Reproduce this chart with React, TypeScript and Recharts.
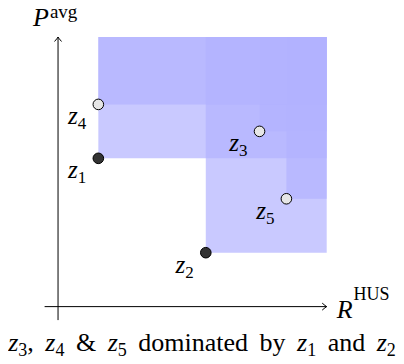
import { ReferenceArea, ReferenceLine, Scatter, ScatterChart, XAxis, YAxis } from "recharts";

const pointIds = ["1", "2", "3", "4", "5"];
const pointX = [1.5, 5.5, 7.5, 1.5, 8.5];
const pointY = [5.5, 2, 6.5, 7.5, 4];
const isDominating = [true, true, false, false, false];
const axisMin = -0.5;
const axisMax = 10;
const xAxisTitle = ["R", "HUS"];
const yAxisTitle = ["P", "avg"];
const caption = { dominated: ["3", "4", "5"], by: ["1", "2"] };

const points = pointIds.map((id, i) => ({ id, x: pointX[i], y: pointY[i], dom: isDominating[i] }));
const font = "Liberation Serif";

function Dot(props: any) {
  const { cx, cy, payload } = props;
  return (
    <g>
      <circle cx={cx} cy={cy} r={5.3} fill={payload.dom ? "#333333" : "#e6e6e6"} stroke="#000" strokeWidth={1} />
      <text x={cx - 12} y={cy + 20} textAnchor="end" style={{ fontFamily: font }} fontSize={25} fill="#000">
        <tspan fontStyle="italic">z</tspan>
        <tspan fontSize={17} dy={5}>{payload.id}</tspan>
      </text>
    </g>
  );
}

function Arrow({ x1, y1, x2, y2, title, vertical }: any) {
  const head = vertical
    ? `M${x2 - 3.5} ${y2 + 4.5} Q${x2 - 0.6} ${y2 + 1.2} ${x2} ${y2} Q${x2 + 0.6} ${y2 + 1.2} ${x2 + 3.5} ${y2 + 4.5}`
    : `M${x2 - 4.5} ${y2 - 3.5} Q${x2 - 1.2} ${y2 - 0.6} ${x2} ${y2} Q${x2 - 1.2} ${y2 + 0.6} ${x2 - 4.5} ${y2 + 3.5}`;
  return (
    <g>
      <line x1={x1} y1={y1} x2={x2} y2={y2} stroke="#000" strokeWidth={1} />
      <path d={head} fill="none" stroke="#000" strokeWidth={1} />
      <text
        x={vertical ? x2 - 25 : x2 + 10}
        y={vertical ? y2 - 11 : y2 + 11}
        style={{ fontFamily: font }}
        fontSize={26}
        fill="#000"
      >
        <tspan fontStyle="italic">{title[0]}</tspan>
        <tspan fontSize={vertical ? 19 : 18} dx={1} dy={vertical ? -8 : -18}>
          {title[1]}
        </tspan>
      </text>
    </g>
  );
}

const Z = ({ n }: { n: string }) => (
  <span>
    <i>z</i>
    <sub style={{ fontSize: 18, verticalAlign: "-5px", lineHeight: 0 }}>{n}</sub>
  </span>
);

export default function App() {
  return (
    <div style={{ position: "relative", margin: -8, width: 404, height: 364, fontFamily: font }}>
      <ScatterChart width={404} height={330} margin={{ top: 37, right: 77.3, bottom: 9.9, left: 44.6 }}>
        <XAxis type="number" dataKey="x" domain={[axisMin, axisMax]} hide allowDataOverflow />
        <YAxis type="number" dataKey="y" domain={[axisMin, axisMax]} hide allowDataOverflow />
        {points.map((p) => (
          <ReferenceArea
            key={"a" + p.id}
            x1={p.x}
            x2={axisMax}
            y1={p.y}
            y2={axisMax}
            fill="#b2b2ff"
            fillOpacity={0.7}
            stroke="none"
          />
        ))}
        <ReferenceLine
          segment={[{ x: axisMin, y: 0 }, { x: axisMax, y: 0 }]}
          shape={(props: any) => <Arrow {...props} title={xAxisTitle} />}
        />
        <ReferenceLine
          segment={[{ x: 0, y: axisMin }, { x: 0, y: axisMax }]}
          shape={(props: any) => <Arrow {...props} title={yAxisTitle} vertical />}
        />
        <Scatter data={points} shape={Dot} isAnimationActive={false} />
      </ScatterChart>
      <div
        style={{
          position: "absolute",
          left: 0,
          top: 330,
          width: 404,
          textAlign: "center",
          fontFamily: font,
          fontSize: 26,
          lineHeight: "26px",
          wordSpacing: 5,
          whiteSpace: "nowrap",
        }}
      >
        <Z n={caption.dominated[0]} />, <Z n={caption.dominated[1]} /> &amp; <Z n={caption.dominated[2]} /> dominated by{" "}
        <Z n={caption.by[0]} /> and <Z n={caption.by[1]} />
      </div>
    </div>
  );
}
